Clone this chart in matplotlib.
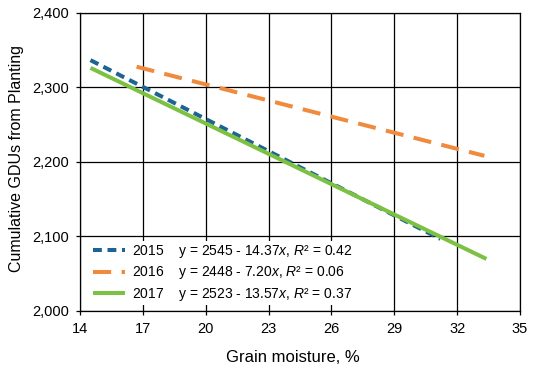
import matplotlib
matplotlib.use("Agg")
import matplotlib.pyplot as plt
from matplotlib.ticker import FuncFormatter

plt.rcParams['font.family'] = ['Liberation Sans', 'DejaVu Sans']
plt.rcParams['mathtext.fontset'] = 'custom'
plt.rcParams['mathtext.rm'] = 'Liberation Sans'
plt.rcParams['mathtext.it'] = 'Liberation Sans:italic'

# Data (line endpoints)
years = ["2015", "2016", "2017"]
x_2015 = [14.5, 31.2]
y_2015 = [2336.6, 2096.7]
x_2016 = [16.7, 33.3]
y_2016 = [2327.8, 2208.2]
x_2017 = [14.5, 33.4]
y_2017 = [2326.2, 2069.8]
equations = ["y = 2545 - 14.37$\\it{x}$, $\\it{R}$\u00b2 = 0.42",
             "y = 2448 - 7.20$\\it{x}$, $\\it{R}$\u00b2 = 0.06",
             "y = 2523 - 13.57$\\it{x}$, $\\it{R}$\u00b2 = 0.37"]
xticks = [14, 17, 20, 23, 26, 29, 32, 35]
yticks = [2000, 2100, 2200, 2300, 2400]

fig = plt.figure(figsize=(5.35, 3.68), dpi=100)
ax = fig.add_axes([0.1495, 0.155, 0.8224, 0.81])

ax.plot(x_2015, y_2015, color='#1d6394', lw=2.9, dashes=(2.2, 1.4), dash_capstyle='butt',
        label=f"{years[0]}    {equations[0]}")
ax.plot(x_2016, y_2016, color='#f08a3c', lw=2.9, dashes=(4.5, 2.6), dash_capstyle='butt',
        label=f"{years[1]}    {equations[1]}")
ax.plot(x_2017, y_2017, color='#7cc142', lw=2.9, solid_capstyle='butt',
        label=f"{years[2]}    {equations[2]}")

ax.set_xlim(14, 35)
ax.set_ylim(2000, 2400)
ax.set_xticks(xticks)
ax.set_yticks(yticks)
ax.yaxis.set_major_formatter(FuncFormatter(lambda v, p: f"{int(v):,}"))
ax.grid(True, color='black', lw=0.9)
ax.set_axisbelow(True)
for s in ax.spines.values():
    s.set_color('black')
    s.set_linewidth(0.9)
ax.tick_params(direction='out', length=3, width=0.9, labelsize=10.5, colors='black')
ax.tick_params(axis='y', pad=5)
ax.tick_params(axis='x', pad=5)
ax.set_xlabel("Grain moisture, %", fontsize=12)
ax.xaxis.set_label_coords(0.483, -0.13)
ax.set_ylabel("Cumulative GDUs from Planting", fontsize=11.5)
ax.yaxis.set_label_coords(-0.127, 0.51)

leg = ax.legend(loc='lower left', bbox_to_anchor=(0.01, 0.0), frameon=True, fontsize=10,
                handlelength=2.3, handletextpad=0.5, labelspacing=0.3, borderpad=0.2,
                borderaxespad=0.4, fancybox=False, framealpha=1)
leg.get_frame().set_edgecolor('white')
leg.get_frame().set_linewidth(0)

fig.savefig("out.png", dpi=100)
